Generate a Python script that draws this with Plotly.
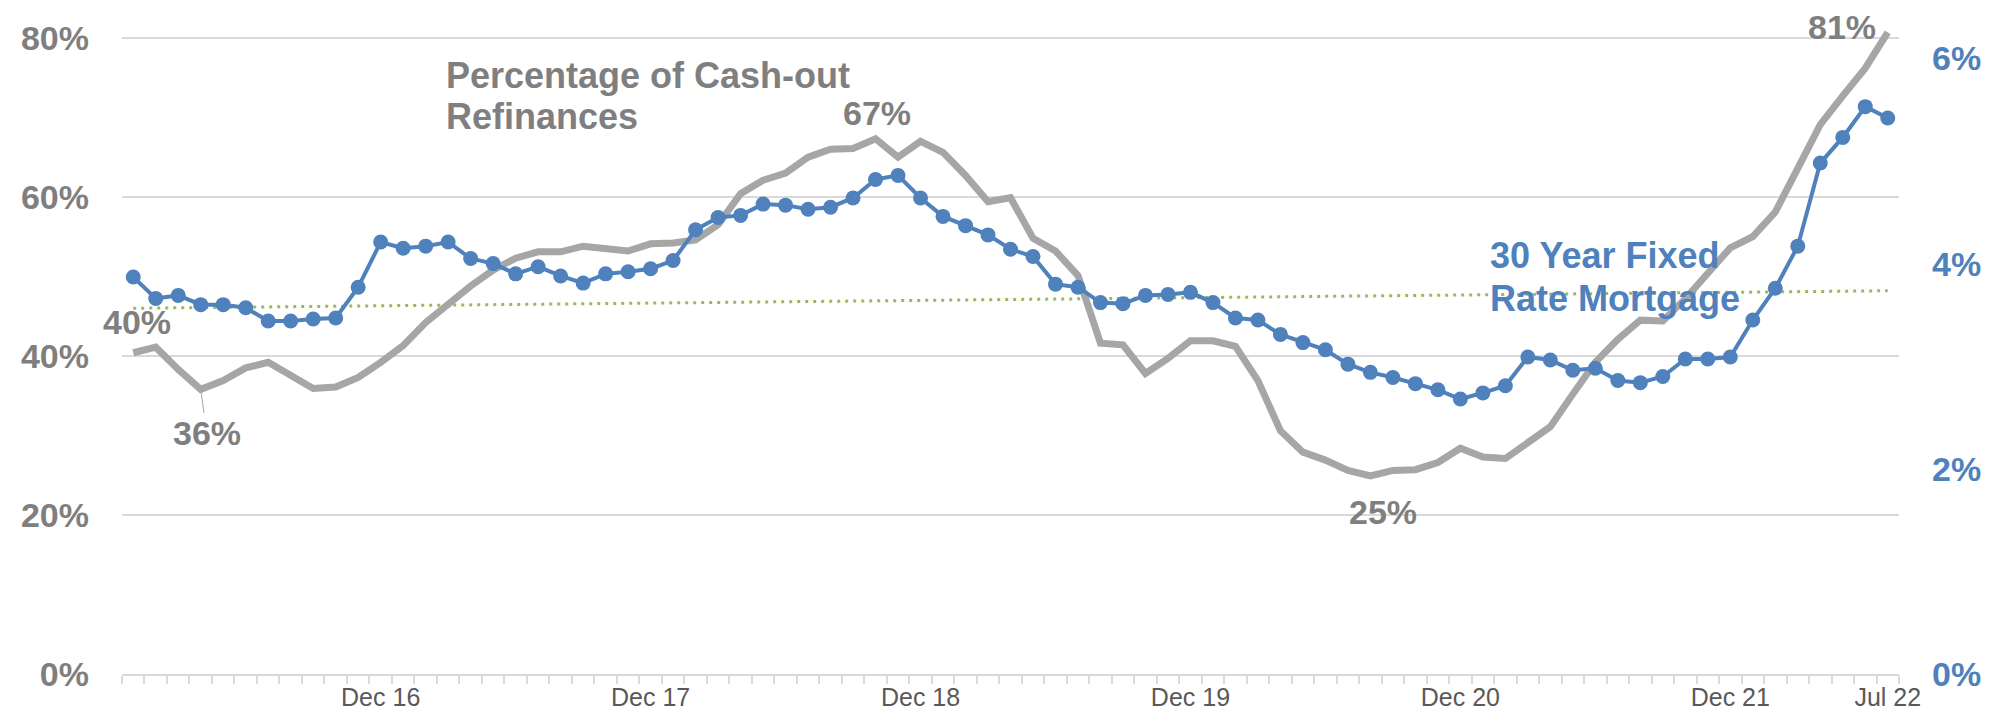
import pandas as pd
import plotly.graph_objects as go

# ---------------- data ----------------
months = pd.date_range("2016-01-01", "2022-07-01", freq="MS").strftime("%b %y").tolist()
shown_ticks = ["Dec 16", "Dec 17", "Dec 18", "Dec 19", "Dec 20", "Dec 21", "Jul 22"]

cashout_pct = [
    40.4, 41.1, 38.3, 35.8, 36.9, 38.5, 39.2, 37.5, 35.9, 36.1, 37.3, 39.2,
    41.3, 44.2, 46.6, 48.8, 50.8, 52.3, 53.1, 53.1, 53.8, 53.4, 53.2, 54.1,
    54.2, 54.6, 56.5, 60.4, 62.1, 63.0, 65.0, 66.0, 66.1, 67.3, 65.0, 67.0,
    65.6, 62.7, 59.4, 59.9, 54.8, 53.2, 50.1, 41.6, 41.4, 37.8, 39.7, 41.9,
    41.9, 41.2, 36.9, 30.6, 27.9, 26.9, 25.6, 24.9, 25.6, 25.7, 26.6, 28.4,
    27.3, 27.1, 29.2, 31.1, 35.2, 39.2, 42.1, 44.5, 44.4, 47.2, 50.4, 53.6,
    55.0, 58.1, 63.6, 69.1, 72.7, 76.2, 80.7,
]

mortgage_rate = [
    3.87, 3.66, 3.69, 3.60, 3.60, 3.57, 3.44, 3.44, 3.46, 3.47, 3.77, 4.21,
    4.15, 4.17, 4.21, 4.05, 4.00, 3.90, 3.97, 3.88, 3.81, 3.90, 3.92, 3.95,
    4.03, 4.33, 4.45, 4.47, 4.58, 4.57, 4.53, 4.55, 4.64, 4.82, 4.86, 4.64,
    4.46, 4.37, 4.28, 4.14, 4.07, 3.80, 3.77, 3.62, 3.61, 3.69, 3.70, 3.72,
    3.62, 3.47, 3.45, 3.31, 3.23, 3.16, 3.02, 2.94, 2.89, 2.83, 2.77, 2.68,
    2.74, 2.81, 3.09, 3.06, 2.96, 2.98, 2.86, 2.84, 2.90, 3.07, 3.07, 3.09,
    3.45, 3.76, 4.17, 4.98, 5.23, 5.53, 5.42,
]

trend_months = ["Jan 16", "Jul 22"]
trend_values = [46.0, 48.2]

left_ticks = [0, 20, 40, 60, 80]
right_ticks = [0, 2, 4, 6]

cashout_title = ["Percentage of Cash-out", "Refinances"]
mortgage_title = ["30 Year Fixed", "Rate Mortgage"]

# ---------------- styling ----------------
FONT = "Arial, Liberation Sans, sans-serif"
GRAY_LINE = "#a6a6a6"
GRAY_TEXT = "#7f7f7f"
BLUE = "#4f81bd"
GREEN = "#9bbb59"
GRID = "#d9d9d9"

Y_TOP = 82
Y2_TOP = 6.2 * Y_TOP / 80

fig = go.Figure()

fig.add_trace(go.Scatter(
    x=trend_months, y=trend_values, mode="lines",
    line=dict(color=GREEN, width=3, dash="3px,5px"),
    hoverinfo="skip", showlegend=False,
))
fig.add_trace(go.Scatter(
    x=months, y=cashout_pct, mode="lines",
    line=dict(color=GRAY_LINE, width=7),
    name="Percentage of Cash-out Refinances", showlegend=False,
))
fig.add_trace(go.Scatter(
    x=months, y=mortgage_rate, mode="lines+markers", yaxis="y2",
    line=dict(color=BLUE, width=4),
    marker=dict(color=BLUE, size=15),
    name="30 Year Fixed Rate Mortgage", showlegend=False,
))

# data labels (month, x-shift px, y-shift px, leader line)
label_specs = [
    ("Jan 16", 4, 31, False),
    ("Apr 16", 6, 44, True),
    ("Oct 18", 1, 26, False),
    ("Aug 20", 13, -36, False),
    ("Jul 22", -46, 5, False),
]
for m, dx, dy, arrow in label_specs:
    v = cashout_pct[months.index(m)]
    txt = f"<b>{round(v)}%</b>"
    if arrow:
        fig.add_annotation(
            x=m, y=v, xref="x", yref="y", text=txt,
            showarrow=True, arrowhead=0, arrowwidth=1, arrowcolor=GRAY_LINE,
            ax=dx, ay=dy, standoff=2,
            font=dict(family=FONT, size=34, color=GRAY_TEXT),
        )
    else:
        fig.add_annotation(
            x=m, y=v, xref="x", yref="y", text=txt,
            showarrow=False, xshift=dx, yshift=dy,
            font=dict(family=FONT, size=34, color=GRAY_TEXT),
        )

# series titles (one annotation per line for Excel-like line spacing)
for line, yp in zip(cashout_title, [0.918, 0.855]):
    fig.add_annotation(
        x=0.1812, y=yp, xref="paper", yref="paper",
        xanchor="left", yanchor="middle", showarrow=False,
        text=f"<b>{line}</b>",
        font=dict(family=FONT, size=36, color=GRAY_TEXT),
    )
for line, yp in zip(mortgage_title, [0.6426, 0.5752]):
    fig.add_annotation(
        x=0.7687, y=yp, xref="paper", yref="paper",
        xanchor="left", yanchor="middle", showarrow=False,
        text=f"<b>{line}</b>",
        font=dict(family=FONT, size=36, color=BLUE),
    )

fig.update_layout(
    width=1995, height=713,
    margin=dict(l=114, r=104, t=14, b=47, autoexpand=False),
    paper_bgcolor="white", plot_bgcolor="white",
    showlegend=False,
    font=dict(family=FONT),
    xaxis=dict(
        type="category", categoryorder="array", categoryarray=months,
        range=[-0.5, len(months) - 0.5],
        tickmode="array", tickvals=months,
        ticktext=[m if m in shown_ticks else "" for m in months],
        tickangle=0, automargin=False,
        tickson="boundaries", ticks="outside", ticklen=8, tickwidth=1.5,
        tickcolor=GRID, showgrid=False,
        showline=True, linecolor=GRID, linewidth=2,
        tickfont=dict(family=FONT, size=25, color="#595959"),
        ticklabelstandoff=0,
    ),
    yaxis=dict(
        range=[0, Y_TOP], tickmode="array", tickvals=left_ticks,
        ticktext=[f"<b>{t}%</b>" for t in left_ticks],
        showgrid=True, gridcolor=GRID, gridwidth=1.5, zeroline=False,
        tickfont=dict(family=FONT, size=34, color=GRAY_TEXT),
        ticklabelstandoff=32, automargin=False,
    ),
    yaxis2=dict(
        range=[0, Y2_TOP], overlaying="y", side="right",
        tickmode="array", tickvals=right_ticks,
        ticktext=[f"<b>{t}%</b>" for t in right_ticks],
        showgrid=False, zeroline=False,
        tickfont=dict(family=FONT, size=34, color=BLUE),
        ticklabelstandoff=32, automargin=False,
    ),
)

fig.write_html("out.html")
